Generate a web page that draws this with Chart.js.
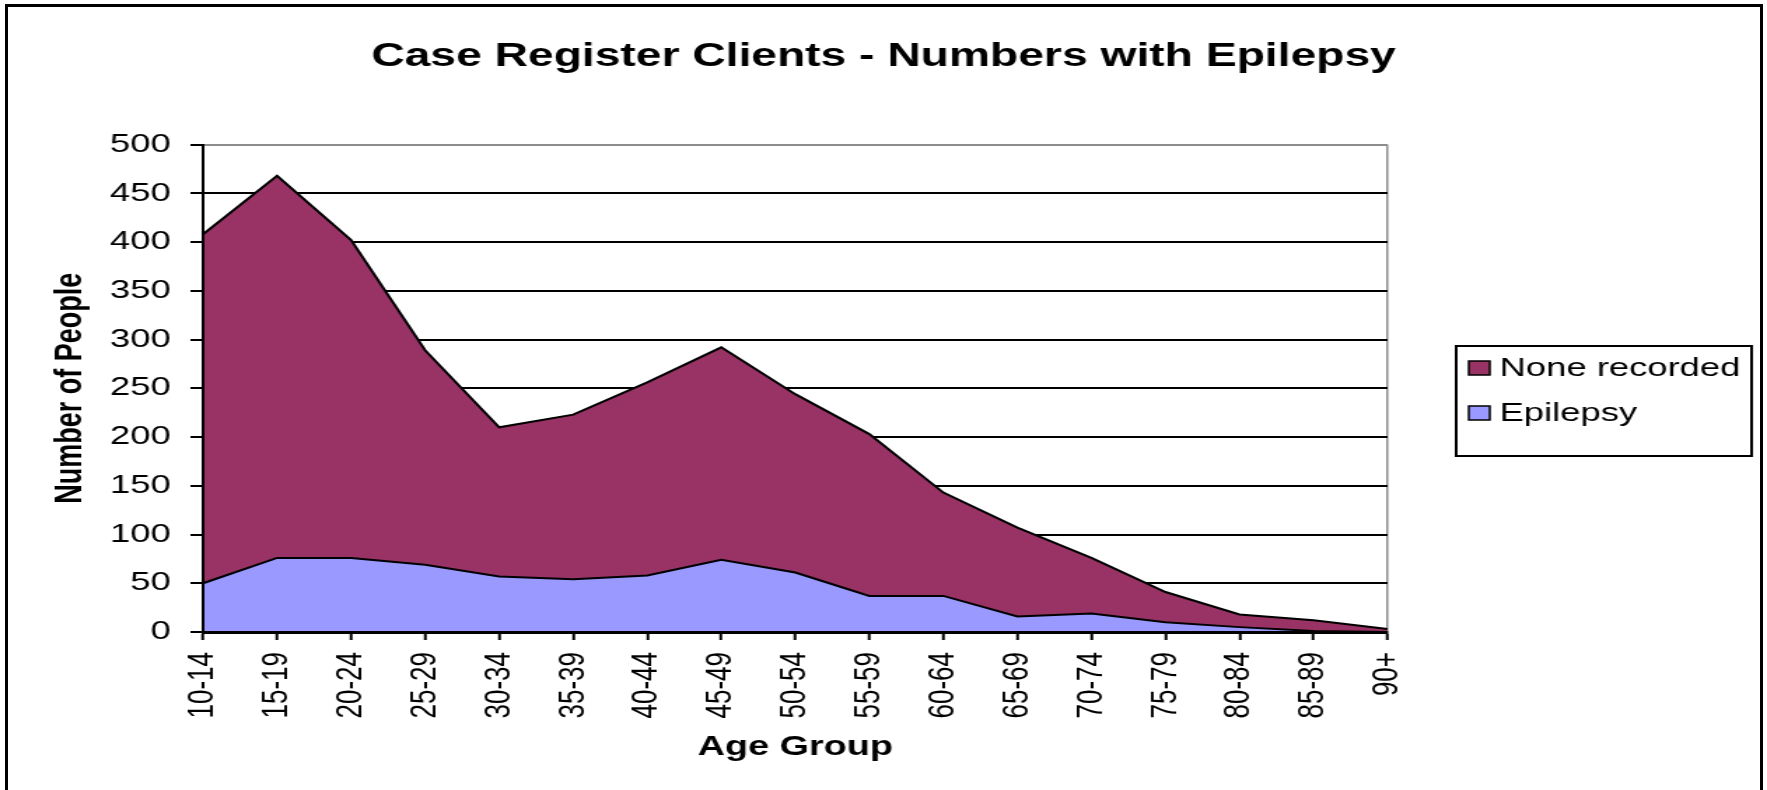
<!DOCTYPE html>
<html>
<head>
<meta charset="utf-8">
<script src="https://cdn.jsdelivr.net/npm/chart.js@4.4.1/dist/chart.umd.min.js"></script>
<style>
html,body{margin:0;padding:0;background:#fff;overflow:hidden}
#wrap{position:relative;width:1767px;height:790px;background:#fff}
#frame{position:absolute;left:5px;top:4px;width:1758px;height:800px;border:3px solid #000;border-bottom:none;box-sizing:border-box;pointer-events:none}
</style>
</head>
<body>
<div id="wrap">
<canvas id="c" width="1262" height="790" style="position:absolute;left:0;top:0;width:1767px;height:790px"></canvas>
<div id="frame"></div>
</div>
<script>
// ---- data ----
const categories = ['10-14','15-19','20-24','25-29','30-34','35-39','40-44','45-49','50-54','55-59','60-64','65-69','70-74','75-79','80-84','85-89','90+'];
const epilepsy = [50,76,76,69,57,54,58,74,61,37,37,16,19,10,5,1,0];
const noneRecorded = [358,392,326,220,153,169,198,218,183,166,106,91,57,31,13,11,3];
const yMin = 0;
const yMax = 500;
const yStep = 50;
const chartTitle = 'Case Register Clients - Numbers with Epilepsy';
const xTitle = 'Age Group';
const yTitle = 'Number of People';

const FONT = 'Arial, "Liberation Sans", sans-serif';
Chart.defaults.font.family = FONT;
Chart.defaults.color = '#000';

// legend drawn in a bordered box to the right of the plot
const boxLegend = {
  id: 'boxLegend',
  afterDraw(chart) {
    const ctx = chart.ctx;
    const a = chart.chartArea;
    const bx = a.right + 49, by = 346, bw = 211, bh = 110;
    ctx.save();
    ctx.lineWidth = 2;
    ctx.strokeStyle = '#000';
    ctx.strokeRect(bx, by, bw, bh);
    const items = chart.data.datasets.slice().reverse();
    ctx.font = '26px ' + FONT;
    ctx.textBaseline = 'middle';
    ctx.textAlign = 'left';
    items.forEach((ds, i) => {
      const cy = by + 22 + i * 45;
      ctx.fillStyle = ds.backgroundColor;
      ctx.fillRect(bx + 9, cy - 7, 15, 14);
      ctx.lineWidth = 1.5;
      ctx.strokeRect(bx + 9, cy - 7, 15, 14);
      ctx.fillStyle = '#000';
      ctx.fillText(ds.label, bx + 31, cy + 1);
    });
    ctx.restore();
  }
};

new Chart(document.getElementById('c'), {
  type: 'line',
  data: {
    labels: categories,
    datasets: [
      { label: 'Epilepsy', data: epilepsy, backgroundColor: '#9999FF', borderColor: '#000', borderWidth: 2,
        fill: 'origin', pointRadius: 0, tension: 0 },
      { label: 'None recorded', data: noneRecorded, backgroundColor: '#993366', borderColor: '#000', borderWidth: 2,
        fill: '-1', pointRadius: 0, tension: 0 }
    ]
  },
  options: {
    responsive: false,
    devicePixelRatio: 1,
    animation: false,
    layout: { padding: 0 },
    plugins: {
      legend: { display: false },
      tooltip: { enabled: false },
      title: {
        display: true, text: chartTitle, color: '#000',
        font: { size: 33, weight: 'bold', lineHeight: 1.2 },
        padding: { top: 37, bottom: 68 }
      }
    },
    scales: {
      x: {
        offset: false,
        grid: {
          display: true, drawOnChartArea: true,
          color: c => (c.index === categories.length - 1 ? '#8c8c8c' : 'rgba(0,0,0,0)'),
          tickColor: '#000', lineWidth: 1.5, tickWidth: 2, tickLength: 8
        },
        border: { display: true, color: '#000', width: 3, z: 1 },
        ticks: { color: '#000', font: { size: 26 }, padding: 12, minRotation: 90, maxRotation: 90, autoSkip: false },
        title: { display: true, text: xTitle, color: '#000', font: { size: 27, weight: 'bold', lineHeight: 1.2 }, padding: { top: 0, bottom: 26 } },
        afterFit: s => { s.height = 158; }
      },
      y: {
        stacked: true,
        min: yMin, max: yMax,
        grid: {
          color: c => (c.tick && c.tick.value === yMax ? '#8c8c8c' : '#000'),
          tickColor: '#000', lineWidth: 2, tickWidth: 2, tickLength: 9
        },
        border: { display: true, color: '#000', width: 2, z: 1 },
        ticks: { stepSize: yStep, color: '#000', font: { size: 26 }, padding: 14 },
        title: { display: true, text: yTitle, color: '#000', font: { size: 27, weight: 'bold', lineHeight: 1.2 }, padding: { top: 34, bottom: 0 } },
        afterFit: s => { s.width = 145; }
      },
      pad: {
        type: 'linear', position: 'right', display: true,
        grid: { display: false }, border: { display: false }, ticks: { display: false },
        afterFit: s => { s.width = 271; }
      }
    }
  },
  plugins: [boxLegend]
});
</script>
</body>
</html>
